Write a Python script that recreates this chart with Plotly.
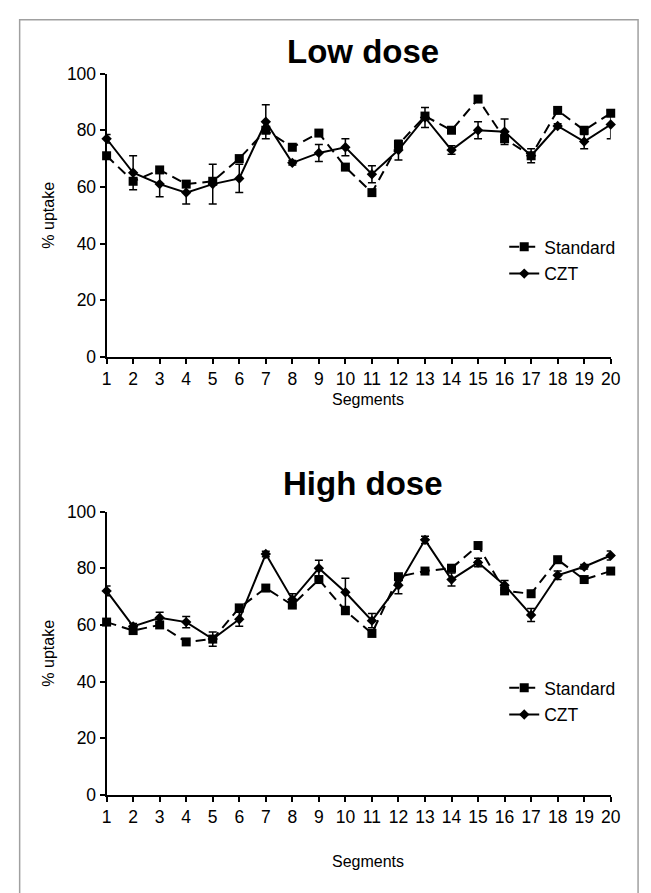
import plotly.graph_objects as go

segments = list(range(1, 21))
tick_labels = [str(i) for i in segments]

low_standard = [71, 62, 66, 61, 62, 70, 80, 74, 79, 67, 58, 75, 85, 80, 91, 77, 71, 87, 80, 86]
low_czt = [77, 65, 61, 58, 61, 63, 83, 68.5, 72, 74, 64.5, 73, 84.5, 73, 80, 79.5, 71, 81.5, 76, 82]
low_czt_err = [1.5, 6, 4.5, 4, 7, 5, 6, 0.8, 3, 3, 3, 3.5, 3.5, 1.5, 3, 4.5, 2.5, 0.8, 2.5, 5]

high_standard = [61, 58, 60, 54, 55, 66, 73, 67, 76, 65, 57, 77, 79, 80, 88, 72, 71, 83, 76, 79]
high_czt = [72, 59.5, 62.5, 61, 55, 62, 85, 69, 80, 71.5, 61.5, 74, 90, 76, 82, 74, 63.5, 77.5, 80.5, 84.5]
high_czt_err = [1.7, 1, 2, 2, 2.5, 2.5, 1, 2, 2.8, 5, 2.5, 3, 1.3, 2.3, 1.5, 1.7, 2.3, 1.5, 0.8, 1.6]

W, H = 651, 893
FONT = "Liberation Sans, Arial, sans-serif"

def px_x(p):
    return p / W

def px_y(p):
    return 1 - p / H

fig = go.Figure()

def add_pair(std, czt, err, xa, ya, legend):
    fig.add_trace(go.Scatter(
        x=segments, y=std, name="Standard", mode="lines+markers",
        xaxis=xa, yaxis=ya, legend=legend, legendgroup=legend + "s",
        line=dict(color="black", width=2, dash="10px,6px"),
        marker=dict(symbol="square", size=9, color="black"),
        cliponaxis=False,
    ))
    fig.add_trace(go.Scatter(
        x=segments, y=czt, name="CZT", mode="lines+markers",
        xaxis=xa, yaxis=ya, legend=legend, legendgroup=legend + "c",
        line=dict(color="black", width=2),
        marker=dict(symbol="diamond", size=8, color="black"),
        error_y=dict(type="data", array=err, visible=True, color="black", thickness=1.5, width=4),
        cliponaxis=False,
    ))

add_pair(low_standard, low_czt, low_czt_err, "x", "y", "legend")
add_pair(high_standard, high_czt, high_czt_err, "x2", "y2", "legend2")

xdom = [px_x(104), px_x(620)]

axis_common = dict(
    showgrid=False, zeroline=False, showline=True, linecolor="black", linewidth=2,
    ticks="outside", ticklen=5, tickwidth=1.5, tickcolor="black",
    tickfont=dict(family=FONT, size=17.5, color="black"),
)

def xaxis_cfg(anchor):
    return dict(axis_common, domain=xdom, anchor=anchor, range=[1, 20],
                tickmode="array", tickvals=segments, ticktext=tick_labels)

def yaxis_cfg(anchor, dom):
    return dict(axis_common, domain=dom, anchor=anchor, range=[0, 100],
                tickmode="array", tickvals=[0, 20, 40, 60, 80, 100],
                title=dict(text="% uptake", font=dict(family=FONT, size=16, color="black"), standoff=8))

legend_common = dict(
    font=dict(family=FONT, size=17.5, color="black"), bgcolor="rgba(0,0,0,0)",
    xanchor="left", yanchor="top", tracegroupgap=1, itemwidth=30,
)

def text_note(text, x, y, size, bold=False):
    return dict(text=f"<b>{text}</b>" if bold else text, x=px_x(x), y=px_y(y),
                xref="paper", yref="paper", showarrow=False,
                xanchor="center", yanchor="middle",
                font=dict(family=FONT, size=size, color="black"))

fig.update_layout(
    width=W, height=H, margin=dict(l=0, r=0, t=0, b=0),
    paper_bgcolor="white", plot_bgcolor="white",
    font=dict(family=FONT, color="black"),
    xaxis=xaxis_cfg("y"),
    yaxis=yaxis_cfg("x", [px_y(355), px_y(65)]),
    xaxis2=xaxis_cfg("y2"),
    yaxis2=yaxis_cfg("x2", [px_y(803), px_y(513)]),
    legend=dict(legend_common, x=px_x(511), y=px_y(224)),
    legend2=dict(legend_common, x=px_x(511), y=px_y(675)),
    annotations=[
        text_note("Low dose", 366, 42, 33, bold=True),
        text_note("High dose", 366, 484, 33, bold=True),
        text_note("Segments", 372, 398, 16),
        text_note("Segments", 372, 871, 16),
    ],
    shapes=[
        dict(type="rect", xref="paper", yref="paper", x0=px_x(15), x1=px_x(648),
             y0=-0.05, y1=px_y(10), line=dict(color="#a0a0a0", width=1.5)),
    ],
)

fig.write_html("out.html")
